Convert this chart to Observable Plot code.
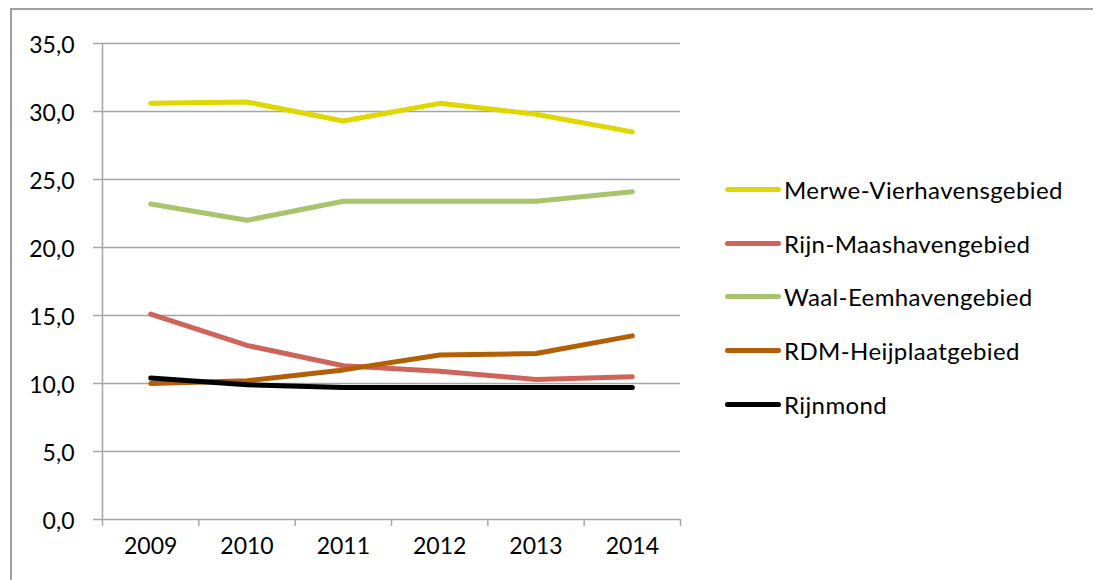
<!DOCTYPE html>
<html>
<head>
<meta charset="utf-8">
<script src="https://cdn.jsdelivr.net/npm/d3@7"></script>
<script src="https://cdn.jsdelivr.net/npm/@observablehq/plot@0.6"></script>
<style>
  html, body { margin: 0; padding: 0; background: #fff; }
  #wrap { position: relative; width: 1094px; height: 580px; overflow: hidden; font-family: Lato, "Open Sans", sans-serif; }
  #frame { position: absolute; left: 10px; top: 8px; width: 1083px; height: 600px; border-top: 2px solid #a0a0a0; border-left: 2px solid #a0a0a0; box-sizing: border-box; }
  #chart { position: absolute; left: 0; top: 0; }
  #legend { position: absolute; left: 725px; top: 163px; }
  .item { display: flex; align-items: center; height: 53.6px; font-size: 24px; letter-spacing: 0.4px; color: #000; }
  .swatch { width: 56px; height: 5px; border-radius: 3px; margin-right: 3px; }
</style>
</head>
<body>
<div id="wrap">
  <div id="frame"></div>
  <div id="chart"></div>
  <div id="legend"></div>
</div>
<script>
const years = [2009, 2010, 2011, 2012, 2013, 2014];
const seriesNames = ["Merwe-Vierhavensgebied", "Rijn-Maashavengebied", "Waal-Eemhavengebied", "RDM-Heijplaatgebied", "Rijnmond"];
const seriesColors = ["#ded800", "#cf645b", "#a9c46c", "#b35f06", "#000000"];
const merwe = [30.6, 30.7, 29.3, 30.6, 29.8, 28.5];
const rijnMaas = [15.1, 12.8, 11.3, 10.9, 10.3, 10.5];
const waalEem = [23.2, 22.0, 23.4, 23.4, 23.4, 24.1];
const rdmHeijplaat = [10.0, 10.2, 11.0, 12.1, 12.2, 13.5];
const rijnmond = [10.4, 9.9, 9.7, 9.7, 9.7, 9.7];
const yTicks = [0, 5, 10, 15, 20, 25, 30, 35];
const xTickMarks = [2008.5, 2009.5, 2010.5, 2011.5, 2012.5, 2013.5, 2014.5];

const seriesValues = [merwe, rijnMaas, waalEem, rdmHeijplaat, rijnmond];
const data = [];
seriesNames.forEach((name, i) => {
  years.forEach((yr, j) => data.push({series: name, year: yr, value: seriesValues[i][j]}));
});

const fmt = d => d.toFixed(1).replace(".", ",");
const grid = "#a6a6a6";

const chart = Plot.plot({
  width: 1094,
  height: 580,
  marginLeft: 102,
  marginRight: 414,
  marginTop: 43,
  marginBottom: 61,
  style: { fontFamily: "Lato, 'Open Sans', sans-serif", background: "transparent", overflow: "visible" },
  x: { domain: [2008.5, 2014.5], axis: null },
  y: { domain: [0, 35], axis: null },
  color: { domain: seriesNames, range: seriesColors },
  marks: [
    Plot.gridY(yTicks, { stroke: grid, strokeOpacity: 1, strokeWidth: 1.5 }),
    Plot.ruleX([2008.5], { stroke: grid, strokeWidth: 1.5 }),
    Plot.axisY({ ticks: yTicks, tickSize: 9, tickFormat: () => "", label: null, stroke: grid, strokeWidth: 1.5, strokeOpacity: 1 }),
    Plot.axisX({ ticks: xTickMarks, tickSize: 7, tickFormat: () => "", label: null, stroke: grid, strokeWidth: 1.5, strokeOpacity: 1 }),
    Plot.text(yTicks, { y: d => d, frameAnchor: "left", dx: -28, dy: 2, textAnchor: "end", text: fmt, fontSize: 23, fill: "#000" }),
    Plot.text(years, { x: d => d, frameAnchor: "bottom", dy: 34, text: d => String(d), fontSize: 23, fill: "#000" }),
    Plot.line(data, { x: "year", y: "value", z: "series", stroke: "series", strokeWidth: 5, strokeLinecap: "round", strokeLinejoin: "round" })
  ]
});
document.getElementById("chart").appendChild(chart);

const legend = document.getElementById("legend");
seriesNames.forEach((name, i) => {
  const item = document.createElement("div");
  item.className = "item";
  const sw = document.createElement("div");
  sw.className = "swatch";
  sw.style.background = seriesColors[i];
  const label = document.createElement("span");
  label.textContent = name;
  item.appendChild(sw);
  item.appendChild(label);
  legend.appendChild(item);
});
</script>
</body>
</html>
